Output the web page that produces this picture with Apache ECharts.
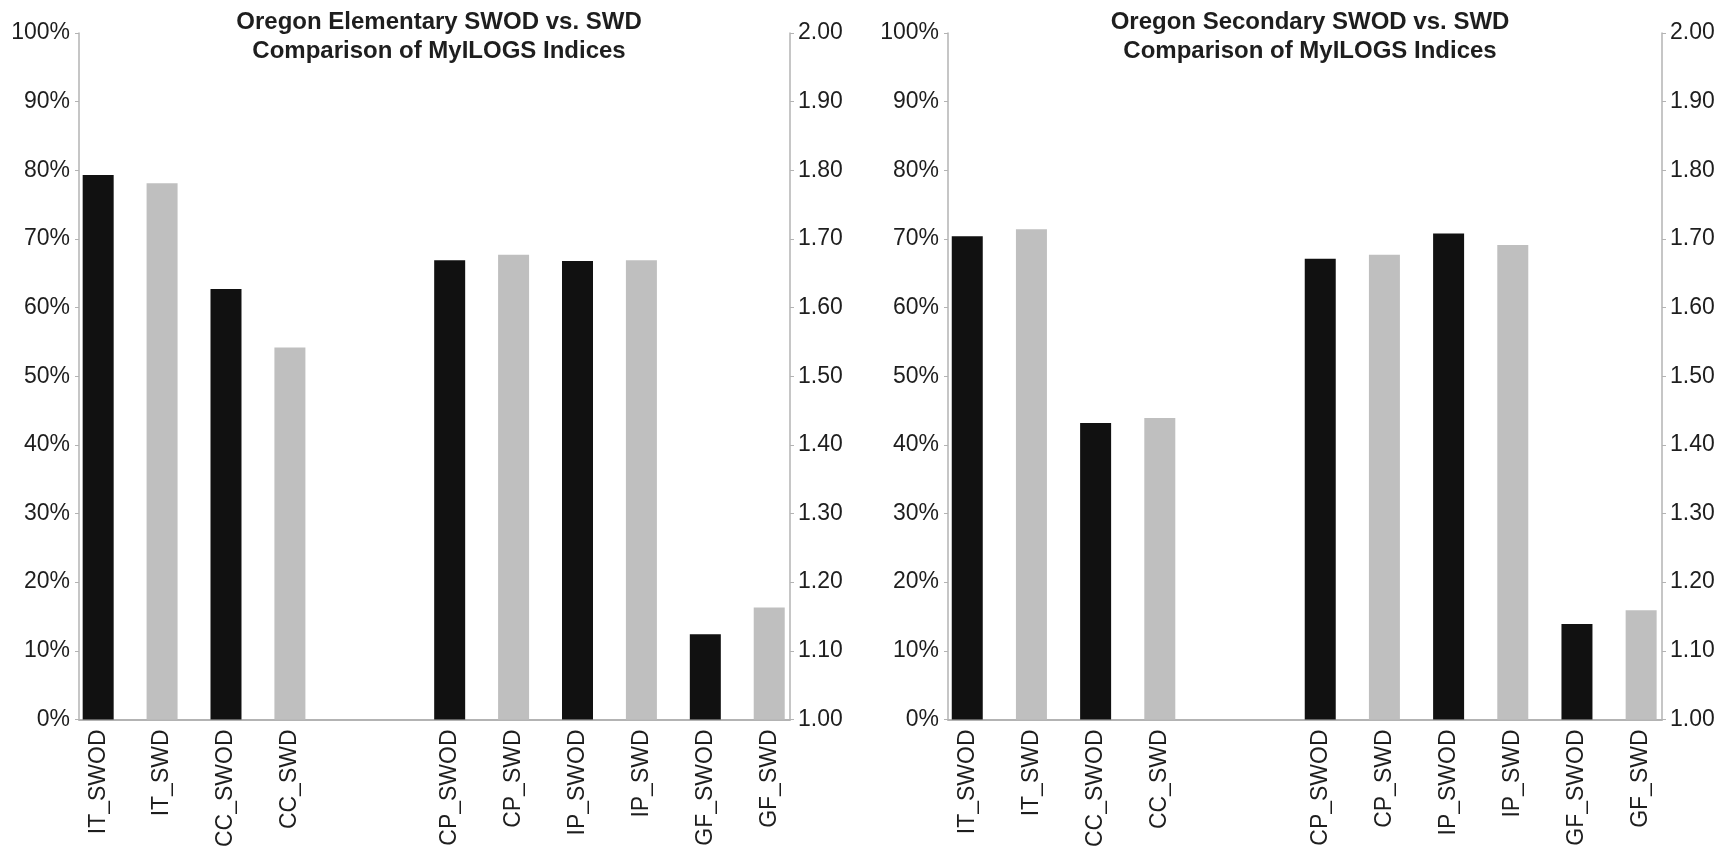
<!DOCTYPE html>
<html>
<head>
<meta charset="utf-8">
<script src="https://cdn.jsdelivr.net/npm/echarts@6/dist/echarts.min.js"></script>
<style>
  html, body { margin: 0; padding: 0; background: #ffffff; }
  #chart { width: 1727px; height: 850px; }
</style>
</head>
<body>
<div id="chart"></div>
<script>
// Measures shown on the percent (left) axis and on the index (right) axis
const percentMeasures = ['IT_SWOD', 'IT_SWD', 'CC_SWOD', 'CC_SWD'];
const indexMeasures = ['CP_SWOD', 'CP_SWD', 'IP_SWOD', 'IP_SWD', 'GF_SWOD', 'GF_SWD'];

// Oregon elementary
const elementaryPercent = [79.3, 78.1, 62.7, 54.2];
const elementaryIndex = [1.669, 1.677, 1.668, 1.669, 1.124, 1.163];

// Oregon secondary
const secondaryPercent = [70.4, 71.4, 43.2, 43.9];
const secondaryIndex = [1.671, 1.677, 1.708, 1.691, 1.139, 1.159];

const panelTitles = [
  'Oregon Elementary SWOD vs. SWD\nComparison of MyILOGS Indices',
  'Oregon Secondary SWOD vs. SWD\nComparison of MyILOGS Indices'
];

const FONT = "'Liberation Sans', Arial, sans-serif";
const BLACK = '#111111';
const GREY = '#bfbfbf';
const AXIS_GREY = '#b3b3b3';
const TEXT = '#1e1e1e';

// Slot layout along the x axis (in half-bar-spacing units): one step between
// neighbouring bars, a wider gap between the percent and the index measures.
const slotOf = {};
const nameAt = {};
let cursor = 0;
percentMeasures.forEach((n, i) => {
  if (i) cursor += 2;
  slotOf[n] = cursor; nameAt[cursor] = n;
});
cursor += 5;
indexMeasures.forEach((n, i) => {
  if (i) cursor += 2;
  slotOf[n] = cursor; nameAt[cursor] = n;
});
const lastSlot = cursor;
const labelSlots = Object.keys(nameAt).map(Number);

function seriesData(names, values) {
  return names.map((n, i) => ({ name: n, value: [slotOf[n], values[i]] }));
}

function barColor(p) {
  return /_SWOD$/.test(p.name) ? BLACK : GREY;
}

const grids = [
  { left: 79, right: 1727 - 790, top: 33, bottom: 126 },
  { left: 948, right: 1727 - 1662, top: 33, bottom: 126 }
];
const centers = [434, 1305];
const panels = [
  [elementaryPercent, elementaryIndex],
  [secondaryPercent, secondaryIndex]
];

const option = {
  backgroundColor: '#ffffff',
  animation: false,
  title: panelTitles.map((t, i) => ({
    text: t,
    left: centers[i],
    top: 3,
    textAlign: 'center',
    textStyle: {
      fontFamily: FONT, fontWeight: 'bold', fontSize: 24,
      lineHeight: 29, color: TEXT
    }
  })),
  grid: grids,
  xAxis: grids.map((g, i) => ({
    type: 'value',
    gridIndex: i,
    min: -0.6,
    max: lastSlot + 0.65,
    axisLine: { show: true, onZero: false, lineStyle: { color: AXIS_GREY, width: 2 } },
    axisTick: { show: false },
    axisLabel: {
      customValues: labelSlots,
      formatter: v => nameAt[Math.round(v)] || '',
      rotate: 90, margin: 10,
      fontFamily: FONT, fontSize: 23, color: TEXT
    },
    splitLine: { show: false }
  })),
  yAxis: [].concat(...grids.map((g, i) => [
    {
      type: 'value',
      gridIndex: i,
      position: 'left',
      min: 0, max: 100, interval: 10,
      axisLine: { show: true, onZero: false, lineStyle: { color: AXIS_GREY, width: 1.5 } },
      axisTick: { show: true, length: 4, lineStyle: { color: AXIS_GREY } },
      axisLabel: {
        margin: 9, formatter: '{value}%',
        fontFamily: FONT, fontSize: 23, color: TEXT
      },
      splitLine: { show: false }
    },
    {
      type: 'value',
      gridIndex: i,
      position: 'right',
      min: 1, max: 2, interval: 0.1,
      axisLine: { show: true, onZero: false, lineStyle: { color: AXIS_GREY, width: 1.5 } },
      axisTick: { show: true, length: 4, lineStyle: { color: AXIS_GREY } },
      axisLabel: {
        margin: 8, formatter: v => v.toFixed(2),
        fontFamily: FONT, fontSize: 23, color: TEXT
      },
      splitLine: { show: false }
    }
  ])),
  series: [].concat(...panels.map((p, i) => [
    {
      type: 'bar',
      xAxisIndex: i,
      yAxisIndex: i * 2,
      data: seriesData(percentMeasures, p[0]),
      barWidth: 31,
      barGap: '-100%',
      itemStyle: { color: barColor },
      clip: true
    },
    {
      type: 'bar',
      xAxisIndex: i,
      yAxisIndex: i * 2 + 1,
      data: seriesData(indexMeasures, p[1]),
      barWidth: 31,
      barGap: '-100%',
      itemStyle: { color: barColor },
      clip: true
    }
  ]))
};

const chart = echarts.init(document.getElementById('chart'), null, { renderer: 'canvas' });
chart.setOption(option);
</script>
</body>
</html>
